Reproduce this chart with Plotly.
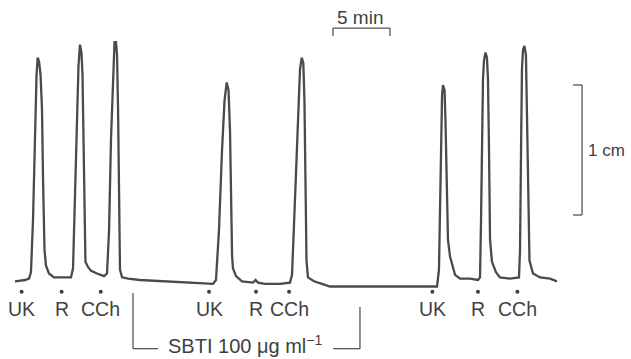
import plotly.graph_objects as go

# Isometric tension trace: time (min) and deflection (cm)
trace_time = [
    0.00, 0.88, 1.23, 1.40, 1.58, 1.75, 1.89, 1.99, 2.11, 2.24, 2.37, 2.46, 2.59, 2.72, 2.98,
    3.42, 3.95, 4.47, 4.91, 5.09, 5.26, 5.44, 5.57, 5.70, 5.83, 5.92, 6.01, 6.10, 6.18, 6.40,
    6.67, 7.19, 7.81, 8.07, 8.25, 8.42, 8.60, 8.73, 8.86, 8.95, 9.04, 9.12, 9.21, 9.39, 9.91,
    10.96, 13.60, 16.23, 17.37, 17.63, 17.89, 18.16, 18.38, 18.57, 18.73, 18.86, 18.95, 19.04,
    19.12, 19.39, 19.91, 20.61, 20.88, 21.10, 21.32, 21.93, 23.25, 24.12, 24.30, 24.56, 24.82,
    25.00, 25.15, 25.29, 25.39, 25.48, 25.57, 25.70, 26.23, 26.93, 27.63, 30.26, 33.77, 37.02,
    37.19, 37.28, 37.37, 37.46, 37.54, 37.68, 37.76, 37.85, 37.98, 38.16, 38.33, 38.60, 39.04,
    39.91, 40.61, 40.79, 40.88, 40.96, 41.05, 41.14, 41.27, 41.40, 41.49, 41.58, 41.67, 41.84,
    42.19, 42.54, 43.42, 44.21, 44.30, 44.39, 44.47, 44.56, 44.69, 44.82, 44.91, 45.00, 45.13,
    45.44, 46.05, 46.93, 47.54,
]
trace_cm = [
    -0.01, 0.00, 0.01, 0.06, 0.46, 1.15, 1.58, 1.71, 1.68, 1.58, 1.31, 0.77, 0.23, 0.11, 0.05,
    0.02, 0.02, 0.02, 0.02, 0.09, 0.62, 1.23, 1.65, 1.81, 1.75, 1.58, 1.00, 0.38, 0.14, 0.10,
    0.07, 0.05, 0.03, 0.05, 0.38, 1.08, 1.62, 1.83, 1.83, 1.73, 1.31, 0.46, 0.08, 0.02, 0.01,
    0.00, -0.01, -0.02, -0.03, 0.00, 0.38, 1.00, 1.38, 1.52, 1.46, 1.15, 0.62, 0.19,
    0.09, 0.03, -0.01, -0.02, -0.02, 0.00, -0.02, -0.03, -0.03, -0.02, 0.04, 0.62, 1.31,
    1.62, 1.71, 1.67, 1.38, 0.77, 0.15, 0.02, -0.01, -0.03, -0.05, -0.05, -0.05, -0.05,
    0.08, 0.62, 1.15, 1.42, 1.50, 1.46, 1.23, 0.77, 0.31, 0.18, 0.12, 0.04, 0.01,
    0.01, 0.00, 0.02, 0.46, 1.08, 1.54, 1.69, 1.75, 1.71, 1.54, 1.00, 0.31, 0.14,
    0.06, 0.02, 0.01, 0.02, 0.23, 1.00, 1.62, 1.77, 1.80, 1.73, 1.31, 0.62, 0.15,
    0.05, 0.02, 0.01, -0.01,
]

# Drug additions
dose_time = [0.58, 4.09, 7.52, 17.02, 21.14, 24.04, 36.61, 40.61, 44.07]
dose_label = ["UK", "R", "CCh", "UK", "R", "CCh", "UK", "R", "CCh"]

# Antagonist exposure period
sbti_start, sbti_end = 10.35, 30.26
sbti_label = "SBTI 100 \u03bcg ml<sup>\u22121</sup>"

# Calibration bars
time_bar = (27.89, 32.89)   # 5 min
tension_bar = (0.50, 1.50)  # 1 cm

ink = "#3f3f3f"
family = "Liberation Sans, Arial, sans-serif"
label_font = dict(family=family, size=19.5, color=ink)

fig = go.Figure()
fig.add_trace(go.Scatter(
    x=trace_time, y=trace_cm, mode="lines",
    line=dict(color="#4a4a4a", width=2.3), hoverinfo="skip", showlegend=False,
))
fig.add_trace(go.Scatter(
    x=dose_time, y=[-0.09] * len(dose_time), mode="markers",
    marker=dict(color=ink, size=4), hoverinfo="skip", showlegend=False,
))
for t, lab in zip(dose_time, dose_label):
    fig.add_annotation(x=t, y=-0.225, text=lab, showarrow=False, font=label_font,
                       xanchor="center", yanchor="middle")

# SBTI bracket
line_style = dict(color="#555555", width=1.3)
fig.add_shape(type="line", x0=sbti_start, x1=sbti_start, y0=-0.10, y1=-0.528, line=line_style)
fig.add_shape(type="line", x0=sbti_start, x1=sbti_start + 2.2, y0=-0.528, y1=-0.528, line=line_style)
fig.add_shape(type="line", x0=sbti_end - 2.35, x1=sbti_end, y0=-0.528, y1=-0.528, line=line_style)
fig.add_shape(type="line", x0=sbti_end, x1=sbti_end, y0=-0.208, y1=-0.528, line=line_style)
fig.add_annotation(x=(sbti_start + sbti_end) / 2 - 0.1, y=-0.6, text=sbti_label,
                   showarrow=False, font=dict(family=family, size=20, color=ink),
                   xanchor="center", yanchor="bottom", borderpad=0)

# 5 min bar
fig.add_shape(type="line", x0=time_bar[0], x1=time_bar[1], y0=1.938, y1=1.938, line=line_style)
for t in time_bar:
    fig.add_shape(type="line", x0=t, x1=t, y0=1.938, y1=1.877, line=line_style)
fig.add_annotation(x=sum(time_bar) / 2 - 0.1, y=2.02, text="5 min", showarrow=False,
                   font=dict(family=family, size=19, color=ink),
                   xanchor="center", yanchor="middle")

# 1 cm bar
fig.add_shape(type="line", x0=49.74, x1=49.74, y0=tension_bar[0], y1=tension_bar[1], line=line_style)
for v in tension_bar:
    fig.add_shape(type="line", x0=48.95, x1=49.74, y0=v, y1=v, line=line_style)
fig.add_annotation(x=50.1, y=1.0, text="1 cm", showarrow=False,
                   font=dict(family=family, size=17, color=ink),
                   xanchor="left", yanchor="middle")

fig.update_xaxes(range=[-1.316, 54.035], visible=False, fixedrange=True)
fig.update_yaxes(range=[-0.6077, 2.1538], visible=False, fixedrange=True)
fig.update_layout(
    width=631, height=359, margin=dict(l=0, r=0, t=0, b=0),
    paper_bgcolor="white", plot_bgcolor="white", showlegend=False,
)
fig.write_html("out.html", config={"displayModeBar": False})
